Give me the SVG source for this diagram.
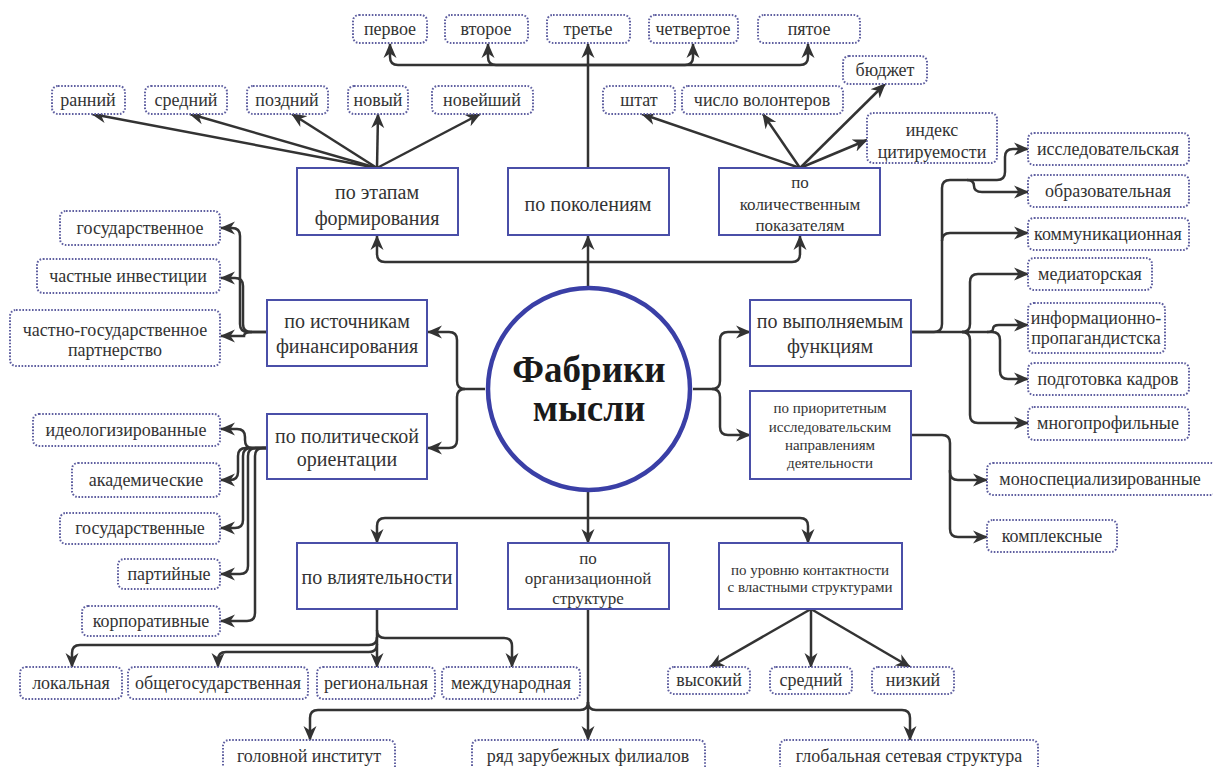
<svg xmlns="http://www.w3.org/2000/svg" width="1213" height="767" viewBox="0 0 1213 767">
<style>
.leaf rect{fill:#fff;stroke:#5f5fa0;stroke-width:2;stroke-dasharray:1.6 1.6}
.cat rect{fill:#fff;stroke:#4a4fa8;stroke-width:2}
text{font-family:"Liberation Serif",serif;fill:#333;text-anchor:middle}
.leaf text{font-size:18px}
.cat text{font-size:20px}
#connectors path,#connectors line{fill:none;stroke:#333;stroke-width:2.5;marker-end:url(#arr)}
</style>
<defs>
<marker id="arr" markerUnits="userSpaceOnUse" markerWidth="15" markerHeight="14" viewBox="0 0 15 14" refX="14" refY="7" orient="auto">
<path d="M0,0.5 L15,7 L0,13.5 L4.5,7 z" fill="#333"/>
</marker>
</defs>
<rect width="1213" height="767" fill="#fff"/>
<g id="connectors">
<path d="M588,168 V44"/>
<path d="M588,65 H398 Q390,65 390,57 V44"/>
<path d="M588,65 H496 Q488,65 488,57 V44"/>
<path d="M588,65 H685 Q693,65 693,57 V44"/>
<path d="M588,65 H800 Q808,65 808,57 V44"/>
<path d="M588,288 V236"/>
<path d="M588,262 H385 Q377,262 377,254 V236"/>
<path d="M588,262 H792 Q800,262 800,254 V236"/>
<line x1="377" y1="168" x2="92" y2="114"/>
<line x1="377" y1="168" x2="190" y2="114"/>
<line x1="377" y1="168" x2="292" y2="114"/>
<line x1="377" y1="168" x2="378" y2="114"/>
<line x1="377" y1="168" x2="480" y2="114"/>
<line x1="800" y1="168" x2="642" y2="114"/>
<line x1="800" y1="168" x2="763" y2="114"/>
<line x1="800" y1="168" x2="885" y2="84"/>
<line x1="800" y1="168" x2="867" y2="140"/>
<path d="M485,389 H465 Q457,389 457,381 V340 Q457,332 449,332 H428"/>
<path d="M465,389 Q457,389 457,397 V440 Q457,448 449,448 H428"/>
<path d="M693,389 H712 Q720,389 720,381 V340 Q720,332 728,332 H750"/>
<path d="M712,389 Q720,389 720,397 V427 Q720,435 728,435 H750"/>
<path d="M588,490 V543"/>
<path d="M588,518 H385 Q377,518 377,526 V543"/>
<path d="M588,518 H800 Q808,518 808,526 V543"/>
<path d="M267,332 H248 Q240,332 240,324 V236 Q240,228 232,228 H221"/>
<path d="M267,332 H251 Q243,332 243,324 V286 Q243,278 235,278 H221"/>
<path d="M252,332 Q244,332 244,336 H221"/>
<path d="M267,448 H252 Q245,448 245,440 V437 Q245,429 237,429 H221"/>
<path d="M267,448 H246 Q238,448 238,456 V472 Q238,480 230,480 H221"/>
<path d="M267,448 H251 Q243,448 243,456 V520 Q243,528 235,528 H221"/>
<path d="M267,448 H256 Q248,448 248,456 V566 Q248,574 240,574 H221"/>
<path d="M267,448 H263 Q255,448 255,456 V613 Q255,621 247,621 H221"/>
<path d="M377,609 V667"/>
<path d="M377,637 Q377,645 369,645 H80 Q72,645 72,653 V667"/>
<path d="M377,644 Q377,652 369,652 H226 Q218,652 218,660 V667"/>
<path d="M377,630 Q377,638 385,638 H504 Q512,638 512,646 V667"/>
<path d="M588,609 V740"/>
<path d="M588,702 Q588,710 580,710 H318 Q310,710 310,718 V740"/>
<path d="M588,702 Q588,710 596,710 H902 Q910,710 910,718 V740"/>
<line x1="811" y1="609" x2="710" y2="667"/>
<line x1="811" y1="609" x2="811" y2="667"/>
<line x1="811" y1="609" x2="910" y2="667"/>
<path d="M911,332 H934 Q942,332 942,324 V188 Q942,180 950,180 H997 Q1005,180 1005,172 V157 Q1005,149 1013,149 H1028"/>
<path d="M967,180 Q974,180 974,186 Q974,192 982,192 H1028"/>
<path d="M942,241 Q942,233 950,233 H1028"/>
<path d="M962,332 Q970,332 970,324 V282 Q970,274 978,274 H1028"/>
<path d="M962,332 Q970,332 970,340 V415 Q970,423 978,423 H1028"/>
<path d="M987,332 Q993,332 993,329 Q993,325 999,325 H1028"/>
<path d="M911,332 H992 Q1000,332 1000,340 V371 Q1000,379 1008,379 H1028"/>
<path d="M911,435 H942 Q950,435 950,443 V472 Q950,480 958,480 H987"/>
<path d="M950,470 V529 Q950,537 958,537 H987"/>
</g>
<g id="center">
<circle cx="589" cy="389" r="101" fill="#fff" stroke="#3a3fa6" stroke-width="4.5"/>
<text x="589" y="382" style="font-size:37px;font-weight:bold;fill:#1a1a1a">Фабрики</text>
<text x="589" y="421" style="font-size:37px;font-weight:bold;fill:#1a1a1a">мысли</text>
</g>
<g id="cat-etapy" class="cat"><rect x="297" y="168" width="161" height="67"/><text x="377" y="199">по этапам</text><text x="377" y="225">формирования</text></g>
<g id="cat-pokoleniya" class="cat"><rect x="508" y="168" width="161" height="67"/><text x="588" y="211">по поколениям</text></g>
<g id="cat-kolich" class="cat"><rect x="719" y="168" width="161" height="67"/><text x="800" y="188" style="font-size:17px">по</text><text x="800" y="210" style="font-size:17px">количественным</text><text x="800" y="231" style="font-size:17px">показателям</text></g>
<g id="cat-istochniki" class="cat"><rect x="267" y="300" width="160" height="66"/><text x="347" y="328">по источникам</text><text x="347" y="353">финансирования</text></g>
<g id="cat-polit" class="cat"><rect x="267" y="414" width="160" height="65"/><text x="347" y="443">по политической</text><text x="347" y="466">ориентации</text></g>
<g id="cat-funkcii" class="cat"><rect x="750" y="300" width="161" height="66"/><text x="830" y="328">по выполняемым</text><text x="830" y="353">функциям</text></g>
<g id="cat-prior" class="cat"><rect x="750" y="391" width="161" height="88"/><text x="830" y="413" style="font-size:15px">по приоритетным</text><text x="830" y="432" style="font-size:15px">исследовательским</text><text x="830" y="450" style="font-size:15px">направлениям</text><text x="830" y="468" style="font-size:15px">деятельности</text></g>
<g id="cat-vliyat" class="cat"><rect x="297" y="543" width="160" height="66"/><text x="377" y="584">по влиятельности</text></g>
<g id="cat-org" class="cat"><rect x="508" y="543" width="161" height="66"/><text x="588" y="564" style="font-size:17px">по</text><text x="588" y="584" style="font-size:17px">организационной</text><text x="588" y="604" style="font-size:17px">структуре</text></g>
<g id="cat-kontakt" class="cat"><rect x="719" y="543" width="183" height="66"/><text x="810" y="575" style="font-size:15px">по уровню контактности</text><text x="810" y="592" style="font-size:15px">с властными структурами</text></g>
<g id="l-pervoe" class="leaf"><rect x="353" y="15" width="74" height="28" rx="6"/><text x="390" y="35">первое</text></g>
<g id="l-vtoroe" class="leaf"><rect x="445" y="15" width="83" height="28" rx="6"/><text x="486" y="35">второе</text></g>
<g id="l-trete" class="leaf"><rect x="547" y="15" width="83" height="28" rx="6"/><text x="588" y="35">третье</text></g>
<g id="l-chetvertoe" class="leaf"><rect x="649" y="15" width="89" height="28" rx="6"/><text x="693" y="35">четвертое</text></g>
<g id="l-pyatoe" class="leaf"><rect x="758" y="15" width="102" height="28" rx="6"/><text x="809" y="35">пятое</text></g>
<g id="l-ranniy" class="leaf"><rect x="52" y="86" width="73" height="28" rx="6"/><text x="88" y="106">ранний</text></g>
<g id="l-sredniy" class="leaf"><rect x="145" y="86" width="82" height="28" rx="6"/><text x="186" y="106">средний</text></g>
<g id="l-pozdniy" class="leaf"><rect x="247" y="86" width="81" height="28" rx="6"/><text x="287" y="106">поздний</text></g>
<g id="l-noviy" class="leaf"><rect x="348" y="86" width="60" height="28" rx="6"/><text x="378" y="106">новый</text></g>
<g id="l-noveyshiy" class="leaf"><rect x="432" y="86" width="101" height="28" rx="6"/><text x="482" y="106">новейший</text></g>
<g id="l-shtat" class="leaf"><rect x="603" y="86" width="72" height="28" rx="6"/><text x="639" y="106">штат</text></g>
<g id="l-volontery" class="leaf"><rect x="682" y="86" width="161" height="28" rx="6"/><text x="762" y="106">число волонтеров</text></g>
<g id="l-byudzhet" class="leaf"><rect x="843" y="56" width="84" height="28" rx="6"/><text x="885" y="76">бюджет</text></g>
<g id="l-indeks" class="leaf"><rect x="867" y="113" width="130" height="50" rx="6"/><text x="932" y="136">индекс</text><text x="932" y="158">цитируемости</text></g>
<g id="l-issled" class="leaf"><rect x="1028" y="133" width="161" height="32" rx="6"/><text x="1108" y="155">исследовательская</text></g>
<g id="l-obraz" class="leaf"><rect x="1028" y="175" width="161" height="32" rx="6"/><text x="1108" y="197">образовательная</text></g>
<g id="l-kommun" class="leaf"><rect x="1028" y="218" width="161" height="32" rx="6"/><text x="1108" y="240">коммуникационная</text></g>
<g id="l-mediator" class="leaf"><rect x="1028" y="258" width="124" height="32" rx="6"/><text x="1090" y="280">медиаторская</text></g>
<g id="l-inform" class="leaf"><rect x="1028" y="303" width="137" height="50" rx="6"/><text x="1096" y="324">информационно-</text><text x="1096" y="344">пропагандистска</text></g>
<g id="l-podgotovka" class="leaf"><rect x="1028" y="363" width="161" height="32" rx="6"/><text x="1108" y="385">подготовка кадров</text></g>
<g id="l-mnogoprof" class="leaf"><rect x="1028" y="407" width="161" height="33" rx="6"/><text x="1108" y="429">многопрофильные</text></g>
<g id="l-mono" class="leaf"><rect x="987" y="463" width="230" height="32" rx="6"/><text x="1100" y="485">моноспециализированные</text></g>
<g id="l-kompleks" class="leaf"><rect x="987" y="520" width="130" height="32" rx="6"/><text x="1052" y="542">комплексные</text></g>
<g id="l-gos" class="leaf"><rect x="60" y="211" width="160" height="34" rx="6"/><text x="140" y="234">государственное</text></g>
<g id="l-chastnye" class="leaf"><rect x="37" y="259" width="183" height="34" rx="6"/><text x="128" y="282">частные инвестиции</text></g>
<g id="l-chgp" class="leaf"><rect x="10" y="310" width="210" height="56" rx="6"/><text x="115" y="336">частно-государственное</text><text x="115" y="356">партнерство</text></g>
<g id="l-ideol" class="leaf"><rect x="33" y="414" width="187" height="32" rx="6"/><text x="126" y="436">идеологизированные</text></g>
<g id="l-akadem" class="leaf"><rect x="72" y="463" width="148" height="34" rx="6"/><text x="146" y="486">академические</text></g>
<g id="l-gosud" class="leaf"><rect x="60" y="513" width="160" height="31" rx="6"/><text x="140" y="534">государственные</text></g>
<g id="l-partiynye" class="leaf"><rect x="118" y="559" width="102" height="30" rx="6"/><text x="169" y="580">партийные</text></g>
<g id="l-korp" class="leaf"><rect x="82" y="606" width="138" height="30" rx="6"/><text x="151" y="627">корпоративные</text></g>
<g id="l-lokal" class="leaf"><rect x="20" y="667" width="102" height="32" rx="6"/><text x="71" y="689">локальная</text></g>
<g id="l-obshchegos" class="leaf"><rect x="128" y="667" width="180" height="32" rx="6"/><text x="218" y="689">общегосударственная</text></g>
<g id="l-region" class="leaf"><rect x="317" y="667" width="118" height="32" rx="6"/><text x="376" y="689">региональная</text></g>
<g id="l-mezhd" class="leaf"><rect x="442" y="667" width="138" height="32" rx="6"/><text x="511" y="689">международная</text></g>
<g id="l-vysokiy" class="leaf"><rect x="668" y="667" width="82" height="27" rx="6"/><text x="709" y="686">высокий</text></g>
<g id="l-sredniy2" class="leaf"><rect x="770" y="667" width="82" height="27" rx="6"/><text x="811" y="686">средний</text></g>
<g id="l-nizkiy" class="leaf"><rect x="872" y="667" width="82" height="27" rx="6"/><text x="913" y="686">низкий</text></g>
<g id="l-golovnoy" class="leaf"><rect x="223" y="740" width="172" height="32" rx="6"/><text x="309" y="762">головной институт</text></g>
<g id="l-ryad" class="leaf"><rect x="472" y="740" width="233" height="32" rx="6"/><text x="588" y="762">ряд зарубежных филиалов</text></g>
<g id="l-global" class="leaf"><rect x="780" y="740" width="258" height="32" rx="6"/><text x="909" y="762">глобальная сетевая структура</text></g>
</svg>
